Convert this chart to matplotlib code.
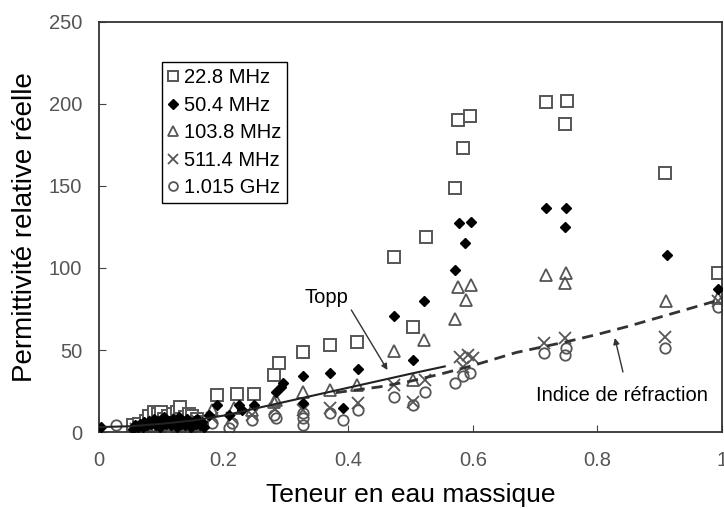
import matplotlib
matplotlib.use('Agg')
import matplotlib.pyplot as plt

plt.rcParams['font.family'] = ['Liberation Sans', 'DejaVu Sans']

# 22.8 MHz (open squares)
sq_x = [0.055, 0.065, 0.075, 0.08, 0.088, 0.095, 0.1, 0.105, 0.11, 0.118, 0.125, 0.13, 0.138, 0.145, 0.15, 0.158, 0.165,
        0.19, 0.222, 0.249, 0.281, 0.289, 0.328, 0.37, 0.414, 0.474, 0.504, 0.525,
        0.571, 0.577, 0.585, 0.596, 0.717, 0.751, 0.748, 0.909, 0.994]
sq_y = [4, 5, 7, 10, 12, 11, 12, 8, 10, 11, 12, 15, 9, 11, 10, 8, 6,
        22.6, 23, 23, 34.8, 41.9, 49, 53, 55, 106.5, 63.8, 119,
        148.7, 190.5, 173, 192.4, 201.5, 202, 187.5, 158, 96.7]

# 50.4 MHz (filled diamonds)
dia_x = [0.003, 0.055, 0.058, 0.062, 0.066, 0.07, 0.073, 0.077, 0.08, 0.084, 0.088, 0.091, 0.095, 0.098,
         0.102, 0.105, 0.108, 0.112, 0.115, 0.118, 0.122, 0.125, 0.128, 0.132, 0.135, 0.138, 0.142,
         0.145, 0.148, 0.152, 0.155, 0.158, 0.162, 0.165, 0.168,
         0.177, 0.19, 0.209, 0.225, 0.23, 0.249, 0.284, 0.292, 0.295, 0.328, 0.328, 0.37, 0.391, 0.415,
         0.473, 0.504, 0.521, 0.571, 0.578, 0.587, 0.597, 0.717, 0.75, 0.748, 0.911, 0.994]
dia_y = [3, 2, 4, 3, 5, 3, 6, 4, 7, 5, 8, 4, 7, 3,
         6, 9, 5, 7, 4, 8, 6, 3, 9, 5, 7, 4, 8,
         6, 3, 7, 5, 8, 4, 6, 3,
         10.4, 16.5, 10.4, 16.5, 13.4, 16.5, 24.6, 27.6, 29.7, 34, 17.6, 36.2, 14.4, 38.2,
         70.7, 43.9, 80, 98.8, 127.2, 115.5, 128.3, 136.4, 136.8, 125.2, 108, 87]

# 103.8 MHz (open triangles)
tri_x = [0.06, 0.07, 0.08, 0.09, 0.1, 0.11, 0.12, 0.13, 0.14, 0.15, 0.16,
         0.182, 0.217, 0.246, 0.281, 0.284, 0.328, 0.37, 0.414, 0.473, 0.504, 0.521,
         0.572, 0.576, 0.589, 0.597, 0.717, 0.75, 0.748, 0.91, 0.994]
tri_y = [3, 4, 6, 6, 7, 5, 8, 6, 5, 7, 4,
         13.4, 14.4, 13.4, 18.5, 19.5, 24.6, 25.6, 28.7, 49.6, 31.7, 56,
         68.9, 88.6, 80.5, 89.6, 95.7, 96.7, 90.7, 80, 82]

# 511.4 MHz (crosses)
crx_x = [0.06, 0.07, 0.08, 0.09, 0.1, 0.11, 0.12, 0.13, 0.14, 0.15, 0.16,
         0.182, 0.214, 0.246, 0.282, 0.328, 0.37, 0.415, 0.474, 0.504, 0.523,
         0.579, 0.584, 0.592, 0.6, 0.715, 0.748, 0.908, 0.994]
crx_y = [2, 3, 3, 4, 4, 3, 5, 4, 3, 4, 3,
         8.3, 8.3, 10.4, 14, 13.5, 14.4, 17.5, 28.7, 18.5, 31.7,
         45.9, 39.8, 47, 45, 54, 57.1, 58, 80]

# 1.015 GHz (open circles)
cir_x = [0.027, 0.06, 0.07, 0.08, 0.09, 0.1, 0.11, 0.12, 0.13, 0.14, 0.15, 0.16,
         0.182, 0.209, 0.214, 0.246, 0.281, 0.284, 0.327, 0.328, 0.328, 0.37, 0.391, 0.415,
         0.474, 0.504, 0.523, 0.571, 0.584, 0.595, 0.715, 0.748, 0.75, 0.908, 0.994]
cir_y = [4, 1, 2, 1.5, 2, 2.5, 2, 3, 2, 1.5, 2.5, 2,
         5.3, 2.2, 5.3, 7.3, 10.4, 8.3, 8.3, 11.4, 4.3, 11.4, 7.3, 13.4,
         21.5, 16.5, 24.6, 29.7, 34.1, 36, 48, 47, 51, 51, 76]

# model curves
topp_x = [0, 0.05, 0.1, 0.15, 0.2, 0.3, 0.4, 0.5, 0.555]
topp_y = [3, 3.5, 5, 7, 10, 18.5, 27, 35.5, 40]
refr_x = [0.38, 0.45, 0.5, 0.55, 0.6, 0.67, 0.75, 0.8, 0.85, 0.9, 0.95, 1.0]
refr_y = [24, 27.5, 31, 35.5, 40.5, 48.5, 55, 59.5, 64.5, 70, 75.5, 81]

x_ticks = [0, 0.2, 0.4, 0.6, 0.8, 1.0]
x_labels = ['0', '0.2', '0.4', '0.6', '0.8', '1']
y_ticks = [0, 50, 100, 150, 200, 250]

fig = plt.figure(figsize=(7.24, 5.09), dpi=100)
ax = fig.add_axes([99/724, 1 - 432/509, 623/724, 410/509])

grey = '#555555'
ax.plot(sq_x, sq_y, ls='none', marker='s', ms=8, mfc='white', mec=grey, mew=1.4, label='22.8 MHz')
ax.plot(dia_x, dia_y, ls='none', marker='D', ms=5.5, color='black', label='50.4 MHz', zorder=3)
ax.plot(tri_x, tri_y, ls='none', marker='^', ms=8, mfc='none', mec=grey, mew=1.3, label='103.8 MHz')
ax.plot(crx_x, crx_y, ls='none', marker='x', ms=8, mec=grey, mew=1.3, label='511.4 MHz')
ax.plot(cir_x, cir_y, ls='none', marker='o', ms=7.5, mfc='none', mec=grey, mew=1.3, label='1.015 GHz')

ax.plot(topp_x, topp_y, color='#222222', lw=1.5, zorder=4)
ax.plot(refr_x, refr_y, color='#333333', lw=2, dashes=(4, 2.5), zorder=4)

ax.text(0.365, 82.3, 'Topp', ha='center', va='center', fontsize=14.5)
ax.annotate('', xy=(0.463, 37.8), xytext=(0.405, 74.4),
            arrowprops=dict(arrowstyle='-|>', color='#333333', lw=1, mutation_scale=9,
                            shrinkA=0, shrinkB=0))
ax.text(0.839, 22, 'Indice de réfraction', ha='center', va='center', fontsize=14.5)
ax.annotate('', xy=(0.828, 57.3), xytext=(0.841, 36.6),
            arrowprops=dict(arrowstyle='-|>', color='#333333', lw=1, mutation_scale=9,
                            shrinkA=0, shrinkB=0))

ax.set_xlim(0, 1)
ax.set_ylim(0, 250)
ax.set_xticks(x_ticks)
ax.set_xticklabels(x_labels)
ax.set_yticks(y_ticks)
ax.tick_params(direction='in', length=5, color='#444444', labelcolor=grey, labelsize=14.5)
ax.tick_params(axis='x', pad=14)
ax.tick_params(axis='y', pad=12)
for s in ax.spines.values():
    s.set_color('#333333')
    s.set_linewidth(1.3)

ax.set_xlabel('Teneur en eau massique', fontsize=19, labelpad=9)
ax.set_ylabel('Permittivité relative réelle', fontsize=20, labelpad=8)

leg = ax.legend(loc='upper left', bbox_to_anchor=(0.101, 0.902), borderaxespad=0,
                fancybox=False, edgecolor='black', framealpha=1, fontsize=14.5,
                handlelength=0.5, handletextpad=0.3, borderpad=0.3, labelspacing=0.42,
                markerscale=0.85)
leg.get_frame().set_linewidth(1)
leg.set_zorder(5)

fig.savefig('out.png', dpi=100)
